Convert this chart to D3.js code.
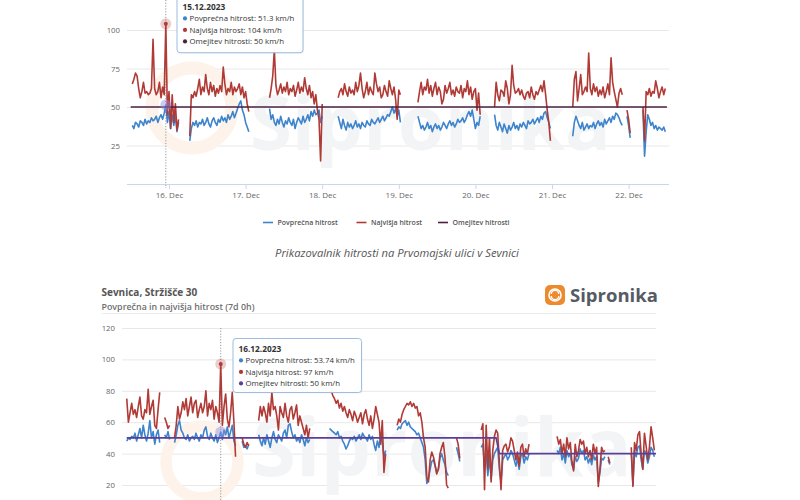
<!DOCTYPE html>
<html><head><meta charset="utf-8">
<script src="https://cdn.jsdelivr.net/npm/d3@7"></script>
<style>
body{margin:0;background:#fff}
svg{display:block}
text{font-family:"Open Sans",sans-serif}
</style>
</head><body>
<svg id="c" width="800" height="500"></svg>
<script>
// ---------------- DATA ----------------
const seriesNames = ["Povprečna hitrost", "Najvišja hitrost", "Omejitev hitrosti"];
const caption = "Prikazovalnik hitrosti na Prvomajski ulici v Sevnici";
const title2 = "Sevnica, Stržišče 30";
const subtitle2 = "Povprečna in najvišja hitrost (7d 0h)";
const brand = "Sipronika";

// top chart (values every 30 minutes, segments separated by night gaps)
const topYTicks = [0, 25, 50, 75, 100];
const topXTicks = ["2023-12-16T00:00","2023-12-17T00:00","2023-12-18T00:00","2023-12-19T00:00","2023-12-20T00:00","2023-12-21T00:00","2023-12-22T00:00"];
const topDomain = ["2023-12-15T12:00", "2023-12-22T12:00"];
const topStarts = ["2023-12-15T12:30","2023-12-16T06:30","2023-12-17T07:30","2023-12-18T05:00","2023-12-19T06:00","2023-12-20T06:00","2023-12-21T06:30","2023-12-21T23:30","2023-12-22T04:30"];
const topAvg = [
 [38,36,40,39,37,41,40,38,42,39,41,40,43,41,42,44,40,43,45,42,46,51.3,40,47,36,45,38,44,34,40],
 [28,36,40,38,41,37,40,39,42,38,40,43,39,37,41,43,40,38,42,40,44,41,43,40,45,42,44,47,43,46,49,52,54,48,45,40,37,34],
 [49,42,45,40,38,42,39,44,40,37,41,39,43,40,38,42,36,40,43,41,39,44,40,42,45,41,47,44,48,45,46,48,40,44],
 [44,40,36,42,38,35,40,37,39,36,38,41,37,39,36,40,38,37,41,39,38,42,40,39,41,43,40,42,44,41,43,45,44,47,50,46,49,44,48,40],
 [44,40,36,38,35,37,40,36,38,34,37,39,36,38,35,37,40,38,36,39,41,38,40,37,39,42,40,41,43,40,42,45,47,44,48,42,36,40,38,44],
 [45,38,35,40,37,34,39,36,33,38,35,37,40,36,38,35,39,37,40,38,36,41,39,40,42,39,41,43,40,44,42,46,47,43,40,36],
 [31,40,44,41,38,36,40,35,37,39,36,38,37,40,36,39,41,38,40,37,42,39,41,43,40,44,42,46,45,43,40,38],
 [44,38,30],
 [48,18,34,45,42,38,40,36,38,35,37,36,35,37,34]
];
const topMax = [
 [65,68,72,70,62,56,60,66,59,60,58,59,62,94,62,58,60,66,56,63,58,104,45,60,36,58,40,52,35,42],
 [31,58,56,60,57,62,68,58,63,60,71,62,58,66,60,64,57,62,59,64,60,76,65,58,62,60,66,58,63,60,62,65,58,63,56,60,52,47],
 [56,62,70,87,64,58,61,65,59,63,60,66,58,62,60,64,57,61,66,59,63,60,69,62,58,64,56,60,52,58,48,42,15,52],
 [56,60,62,58,65,60,57,63,59,61,58,66,60,64,72,62,56,60,66,58,63,60,58,72,65,60,63,56,58,64,60,57,67,62,58,63,55,42,61,58],
 [53,60,66,58,63,61,68,59,64,57,62,66,58,63,60,52,55,64,59,62,66,58,61,57,63,60,59,64,56,62,60,67,58,63,55,60,62,48,59,45],
 [50,66,58,54,61,60,57,67,62,52,58,77,64,59,60,62,58,61,57,55,59,60,56,63,58,55,60,58,61,64,60,67,58,48,40,28],
 [50,68,73,54,62,71,58,60,63,60,85,62,58,65,60,63,57,61,58,63,56,60,65,58,82,66,60,55,50,59,62,58],
 [48,42,33],
 [50,28,60,58,62,57,60,59,67,62,56,60,63,58,62]
];
const topLimit = [["2023-12-15T12:00",50],["2023-12-22T12:00",50]];
const topTip = {date:"15.12.2023", time:"2023-12-15T23:00", avg:51.3, max:104, limit:50};

// bottom chart
const botYTicks = [20, 40, 60, 80, 100, 120];
const botDomain = ["2023-12-15T06:00", "2023-12-22T00:00"];
const botStarts = ["2023-12-15T07:30","2023-12-15T19:00","2023-12-15T22:00","2023-12-16T18:30","2023-12-16T23:30","2023-12-17T21:00","2023-12-18T17:30","2023-12-19T11:30","2023-12-19T19:00","2023-12-20T18:00","2023-12-21T09:30","2023-12-21T16:30"];
const botAvg = [
 [48,50,49,51,50,53,48,52,56,50,58,52,48,53,61,50,54,46,52,55,47],
 [52,50,54,49],
 [47,52,58,61,55,53,50,49,52,48,50,51,49,53,50,48,52,50,55,57,51,49,53,50,48,52,47,50,53.74,49,55,52,57,50,54,58,48,45],
 [48,44,45,43,46],
 [52,48,45,50,46,52,48,44,50,54,49,47,52,50,48,53,55,50,58,59,54,50,52,48,50,47,52,49,45,50,47,49],
 [56,55,54,53,52,54,50,51,48,46,43,45,48,50,49,51,48,50,52,49,53,51,50,48,52,49,51,46,42,48,44,52,47,38,42],
 [55,57,56,59,60,61,58,60,57,56,55,54,52,53,50,47,44,36,21,24,30,35,36,32,28,30,37,40,36,33,28,26],
 [44,40,35],
 [44,46,30,40,26,38,24,36,40,42,44,30,22,36,38,40,36,38,42,40,36,32,37,30,38,40,34,38,36,40],
 [42,40,44,36,40,34,42,38,40,33,30,38,35,37,43,40,42,36,38,34,37,33,39,36,38,22,28,37,36,38],
 [36,33],
 [40,20,42,38,44,45,36,30,42,40,34,38,44,42,38]
];
const botMax = [
 [75,60,66,72,65,68,63,70,76,64,62,68,66,81,65,70,74,58,56,68,79],
 [63,60,56,58],
 [50,58,70,62,66,73,68,75,64,70,76,66,72,74,63,68,72,66,70,80,64,72,68,74,62,70,66,60,97,58,70,78,62,57,66,79,60,38],
 [50,46,44,47,45],
 [61,70,64,70,66,60,72,64,79,68,70,64,55,70,66,63,72,64,60,68,70,62,66,71,58,64,60,56,52,58,50,56],
 [79,80,77,75,72,74,69,72,67,70,66,63,68,65,61,67,64,60,63,66,59,65,68,62,58,64,56,62,70,65,60,46,61,28,40],
 [58,62,60,65,68,70,72,71,73,70,72,69,70,64,66,60,50,44,25,22,36,41,38,33,27,30,40,44,47,38,20,18],
 [50,46,37],
 [55,59,17,58,30,50,22,42,51,55,53,34,17,42,45,46,41,44,50,48,42,36,41,32,44,46,38,43,40,46],
 [51,46,49,40,46,38,50,43,47,35,29,46,38,42,49,46,48,40,44,38,42,36,46,40,44,19,30,44,41,42],
 [38,34],
 [44,19,47,42,52,54,40,30,53,45,36,44,57,50,42]
];
const botLimit = [["2023-12-15T07:30",50],["2023-12-19T23:30",50],["2023-12-20T00:30",40],["2023-12-22T00:00",40]];
const botTip = {date:"16.12.2023", time:"2023-12-16T12:00", avg:53.74, max:97, limit:50};

// ---------------- DRAW ----------------
const parse = d3.timeParse("%Y-%m-%dT%H:%M");
const C = {avg:"#3d84cc", max:"#b03a36", limTop:"#4a2040", limBot:"#5b3f96", grid:"#e8e8e8", lab:"#666"};
const svg = d3.select("#c");

function segs(starts, arr){
  return arr.map((vals,k)=>{const t0 = parse(starts[k]); return vals.map((v,i)=>({t:new Date(+t0 + i*1800000), v}));});
}

function watermark(g, cx, cy, r, tx, ty, fs){
  g.append("circle").attr("cx",cx).attr("cy",cy).attr("r",r).attr("fill","none")
    .attr("stroke","#fdf3ea").attr("stroke-width",r*0.32);
  g.append("text").attr("x",tx).attr("y",ty).attr("font-size",fs).attr("font-weight",700)
    .attr("fill","#f3f4f6").text(brand);
}

function drawChart(o){
  const g = svg.append("g");
  const x = d3.scaleTime().domain(o.domain.map(parse)).range(o.xr);
  const y = d3.scaleLinear().domain(o.yd).range(o.yr);
  g.append("g").attr("transform",`translate(${o.gx0},0)`)
    .call(d3.axisLeft(y).tickValues(o.yticks).tickSize(-(o.gx1-o.gx0)).tickFormat(""))
    .call(a=>{a.select(".domain").remove(); a.selectAll("line").attr("stroke",C.grid);});
  watermark(g, ...o.wm);
  g.append("g").attr("transform",`translate(${o.gx0},0)`)
    .call(d3.axisLeft(y).tickValues(o.yticks).tickSize(0).tickPadding(7))
    .call(a=>{a.select(".domain").remove(); a.selectAll("text").attr("fill",C.lab).attr("font-size",7.8).attr("font-family","Open Sans");});
  const tt = parse(o.tip.time);
  g.append("line").attr("x1",x(tt)).attr("x2",x(tt)).attr("y1",o.chY[0]).attr("y2",o.chY[1])
    .attr("stroke","#999").attr("stroke-width",1).attr("stroke-dasharray","1.2,1.6");
  const line = d3.line().x(d=>x(d.t)).y(d=>y(d.v));
  const drawSegs = (data,col)=> g.append("g").selectAll("path").data(data).join("path")
      .attr("d",line).attr("fill","none").attr("stroke",col).attr("stroke-width",1.6).attr("stroke-linejoin","round");
  drawSegs(segs(o.starts,o.avg), C.avg);
  drawSegs(segs(o.starts,o.max), C.max);
  g.append("path").datum(o.limit.map(d=>({t:parse(d[0]),v:d[1]}))).attr("d",line)
    .attr("fill","none").attr("stroke",o.limCol).attr("stroke-width",1.6);
  [[o.tip.avg,"#8f8fe0"],[o.tip.max,C.max]].forEach(([v,c],i)=>{
    g.append("circle").attr("cx",x(tt)).attr("cy",y(v)).attr("r",5.5).attr("fill",c).attr("opacity",i?0.25:0.45);
    if(i) g.append("circle").attr("cx",x(tt)).attr("cy",y(v)).attr("r",2).attr("fill",c);
  });
  return {g,x,y};
}

function tooltip(bx,by,bw,bh,tip,limCol){
  const g = svg.append("g");
  g.append("rect").attr("x",bx+1).attr("y",by+1).attr("width",bw).attr("height",bh).attr("rx",3).attr("fill","#000").attr("opacity",0.06);
  g.append("rect").attr("x",bx).attr("y",by).attr("width",bw).attr("height",bh).attr("rx",3)
    .attr("fill","#fff").attr("fill-opacity",0.96).attr("stroke","#9dbde2").attr("stroke-width",1);
  const tx = bx+5.5;
  g.append("text").attr("x",tx).attr("y",by+13).attr("font-size",8.3).attr("font-weight",700).attr("fill","#333").text(tip.date);
  const rows = [[C.avg,`${seriesNames[0]}: ${tip.avg} km/h`],[C.max,`${seriesNames[1]}: ${tip.max} km/h`],[limCol,`${seriesNames[2]}: ${tip.limit} km/h`]];
  rows.forEach(([c,t],i)=>{
    const yy = by+24.5+i*11.5;
    g.append("circle").attr("cx",tx+2.5).attr("cy",yy-2.6).attr("r",2.1).attr("fill",c);
    g.append("text").attr("x",tx+7).attr("y",yy).attr("font-size",7.8).attr("fill","#333").text(t);
  });
}

// ---- top chart
const topC = drawChart({domain:topDomain, xr:[130.7,666.9], yd:[0,100], yr:[184,30], yticks:topYTicks.slice(1), gx0:127, gx1:669,
  starts:topStarts, avg:topAvg, max:topMax, limit:topLimit, limCol:C.limTop, tip:topTip, chY:[0,188],
  wm:[192,108,40,250,150,76]});
topC.g.append("g").attr("transform","translate(0,184)")
  .call(d3.axisBottom(topC.x).tickValues(topXTicks.map(parse)).tickFormat(d3.timeFormat("%-d. %b")).tickSize(5).tickPadding(3))
  .call(a=>{a.select(".domain").attr("stroke","#ccd6eb").attr("d","M127,0.5H669");
            a.selectAll("line").attr("stroke","#ccd6eb");
            a.selectAll("text").attr("fill",C.lab).attr("font-size",8).attr("font-family","Open Sans");});
tooltip(177,-3.5,126,56.2,topTip,C.limTop);

const leg = svg.append("g").attr("transform","translate(0,222.5)");
const legX = [263, 356.5, 438];
const legC = [C.avg, C.max, C.limTop];
seriesNames.forEach((n,i)=>{
  leg.append("line").attr("x1",legX[i]).attr("x2",legX[i]+10).attr("stroke",legC[i]).attr("stroke-width",1.6);
  leg.append("text").attr("x",legX[i]+14.5).attr("y",2.6).attr("font-size",7).attr("font-weight",600).attr("fill","#555").text(n);
});
svg.append("text").attr("x",397).attr("y",257).attr("text-anchor","middle").attr("font-size",11.2)
  .attr("font-style","italic").attr("fill","#555").text(caption);

// ---- bottom chart header
svg.append("text").attr("x",101.5).attr("y",295.5).attr("font-size",10).attr("font-weight",700).attr("fill","#555").text(title2);
svg.append("text").attr("x",101.5).attr("y",309.5).attr("font-size",8.9).attr("font-weight",600).attr("fill","#6f6f6f").text(subtitle2);
const lg = svg.append("g");
lg.append("rect").attr("x",545).attr("y",285).attr("width",20).attr("height",20).attr("rx",5).attr("fill","#ee8a2e");
lg.append("circle").attr("cx",555).attr("cy",295).attr("r",6).attr("fill","none").attr("stroke","#fff").attr("stroke-width",1.6);
lg.append("path").attr("d","M551.3,294 a3.7,3.7 0 0,1 7.4,0 M558.7,296 a3.7,3.7 0 0,1 -7.4,0").attr("fill","none").attr("stroke","#fff").attr("stroke-width",1.4);
lg.append("text").attr("x",570).attr("y",302).attr("font-size",18.5).attr("font-weight",700).attr("fill","#555b64").text(brand);
svg.append("line").attr("x1",102).attr("x2",656).attr("y1",313.5).attr("y2",313.5).attr("stroke","#ececec");

const botC = drawChart({domain:botDomain, xr:[121.8,656], yd:[0,120], yr:[516.4,328], yticks:botYTicks, gx0:122, gx1:656,
  starts:botStarts, avg:botAvg, max:botMax, limit:botLimit, limCol:C.limBot, tip:botTip, chY:[328,500],
  wm:[202,462,36,252,476,80]});
tooltip(233,338.5,128.5,54,botTip,C.limBot);
</script>
</body></html>
